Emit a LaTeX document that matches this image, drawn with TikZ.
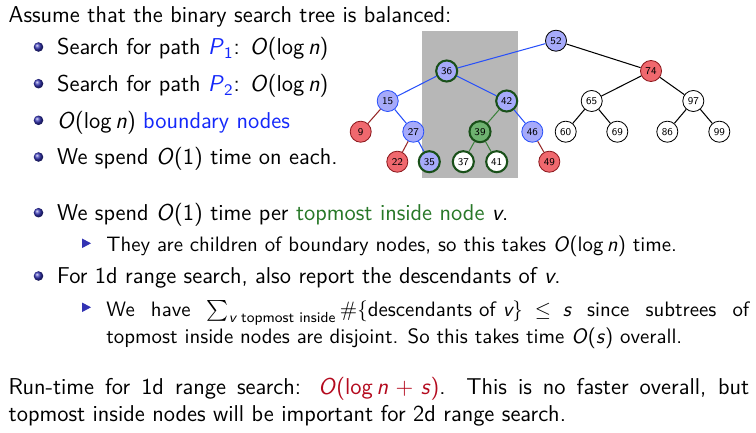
\documentclass[tikz,border=0pt]{standalone}
\usepackage{amsmath}
\definecolor{struct}{RGB}{51,51,179}
\definecolor{nblue}{RGB}{166,170,250}
\definecolor{eblue}{RGB}{40,80,250}
\definecolor{nred}{RGB}{240,104,110}
\definecolor{dred}{RGB}{140,25,30}
\definecolor{ered}{RGB}{150,40,40}
\definecolor{ngreen}{RGB}{110,178,112}
\definecolor{dgreen}{RGB}{25,80,25}
\definecolor{egreen}{RGB}{60,130,60}
\definecolor{tgreen}{RGB}{40,120,40}
\definecolor{tred}{RGB}{180,10,30}
\definecolor{tblue}{RGB}{20,40,250}
\definecolor{shadegray}{RGB}{183,183,183}
\newcommand{\bO}[1]{\textit{O}(#1)}
\newcommand{\lgn}{log\,\textit{n}}
\tikzset{
  tn/.style={circle, minimum size=10.1pt, inner sep=0pt, font=\sffamily\fontsize{5}{6}\selectfont, line width=0.4pt},
  bl/.style={tn, fill=nblue, draw=eblue},
  blk/.style={tn, fill=nblue, draw=black},
  bg/.style={tn, fill=nblue, draw=dgreen, line width=1pt},
  rd/.style={tn, fill=nred, draw=dred},
  gr/.style={tn, fill=ngreen, draw=dgreen, line width=1pt},
  wg/.style={tn, fill=white, draw=dgreen, line width=1pt},
  wh/.style={tn, fill=white, draw=black},
  eb/.style={draw=eblue, line width=0.5pt},
  ek/.style={draw=black, line width=0.5pt},
  er/.style={draw=ered, line width=0.5pt},
  eg/.style={draw=egreen, line width=0.5pt},
  txt/.style={anchor=base west, inner sep=0pt, font=\sffamily\fontsize{11}{13.6}\selectfont},
  stxt/.style={anchor=base west, inner sep=0pt, font=\sffamily\fontsize{10}{12}\selectfont},
  bul/.style={ball color=struct},
  tri/.style={fill=struct}
}
\begin{document}
\begin{tikzpicture}[x=0.48pt, y=-0.48pt]
\useasboundingbox (0,0) rectangle (756,433);
% shaded region
\fill[shadegray] (421.7,31) rectangle (518.3,178.3);
% tree nodes
\node[blk] (n52) at (556,40.7) {52};
\node[bg] (n36) at (446.7,71) {36};
\node[rd] (n74) at (651,71) {74};
\node[bl] (n15) at (387.7,101) {15};
\node[bg] (n42) at (506.7,101) {42};
\node[wh] (n65) at (591.7,101) {65};
\node[wh] (n97) at (693.3,101) {97};
\node[rd] (n9) at (360.7,131.7) {9};
\node[bl] (n27) at (413.3,131.7) {27};
\node[gr] (n39) at (480,131.7) {39};
\node[bl] (n46) at (532.3,131.7) {46};
\node[wh] (n60) at (565.7,131.7) {60};
\node[wh] (n69) at (617.3,131.7) {69};
\node[wh] (n86) at (667.3,131.7) {86};
\node[wh] (n99) at (719.3,131.7) {99};
\node[rd] (n22) at (397.3,161.7) {22};
\node[bg] (n35) at (429.3,161.7) {35};
\node[wg] (n37) at (463.3,161.7) {37};
\node[wg] (n41) at (496.7,161.7) {41};
\node[rd] (n49) at (549.3,161.7) {49};
% edges
\draw[eb] (n52) -- (n36);
\draw[ek] (n52) -- (n74);
\draw[eb] (n36) -- (n15);
\draw[eb] (n36) -- (n42);
\draw[ek] (n74) -- (n65);
\draw[ek] (n74) -- (n97);
\draw[er] (n15) -- (n9);
\draw[eb] (n15) -- (n27);
\draw[eg] (n42) -- (n39);
\draw[eb] (n42) -- (n46);
\draw[ek] (n65) -- (n60);
\draw[ek] (n65) -- (n69);
\draw[ek] (n97) -- (n86);
\draw[ek] (n97) -- (n99);
\draw[er] (n27) -- (n22);
\draw[eb] (n27) -- (n35);
\draw[eg] (n39) -- (n37);
\draw[eg] (n39) -- (n41);
\draw[er] (n46) -- (n49);
% text
\node[txt] (t0) at (8.3,22.7) {Assume that the binary search tree is balanced:};
\shade[bul] (38.5,47) circle (2.3pt);
\node[txt] (t1) at (56.7,55) {Search for path {\color{tblue}\textit{P}$_{\text{1}}$}: \bO{\lgn}};
\shade[bul] (38.5,83.7) circle (2.3pt);
\node[txt] (t2) at (56.7,91.7) {Search for path {\color{tblue}\textit{P}$_{\text{2}}$}: \bO{\lgn}};
\shade[bul] (38.5,120.3) circle (2.3pt);
\node[txt] (t3) at (56.7,128.3) {\bO{\lgn} {\color{tblue}boundary nodes}};
\shade[bul] (38.5,157) circle (2.3pt);
\node[txt] (t4) at (56.7,165) {We spend \bO{1} time on each.};
\shade[bul] (38.5,212.7) circle (2.3pt);
\node[txt] (t5) at (56.7,220.7) {We spend \bO{1} time per {\color{tgreen}topmost inside node} \textit{v}.};
\fill[tri] (82,238.5) -- (91,243.3) -- (82,248.1) -- cycle;
\node[stxt] (t6) at (106,251.7) {They are children of boundary nodes, so this takes \bO{\lgn} time.};
\shade[bul] (38.5,276) circle (2.3pt);
\node[txt] (t7) at (56.7,284) {For 1d range search, also report the descendants of \textit{v}.};
\fill[tri] (82,302.5) -- (91,307.3) -- (82,312.1) -- cycle;
\node[stxt] (t8) at (106,316) {\thickmuskip=5mu plus 2mu\makebox[308.6pt][s]{We have $\sum_{\text{\itshape v}\text{ topmost inside}}\#\{\text{descendants of \itshape v}\}\leq\text{\itshape s}$ since subtrees of}};
\node[stxt] (t9) at (106,343.3) {topmost inside nodes are disjoint. So this takes time \bO{\textit{s}} overall.};
\node[txt] (t10) at (8.3,394) {\makebox[355.5pt][s]{Run-time for 1d range search: {\color{tred}\textit{O}(\lgn${}+{}$\textit{s})}. This is no faster overall, but}};
\node[txt] (t11) at (8.3,421) {topmost inside nodes will be important for 2d range search.};
\end{tikzpicture}
\end{document}
